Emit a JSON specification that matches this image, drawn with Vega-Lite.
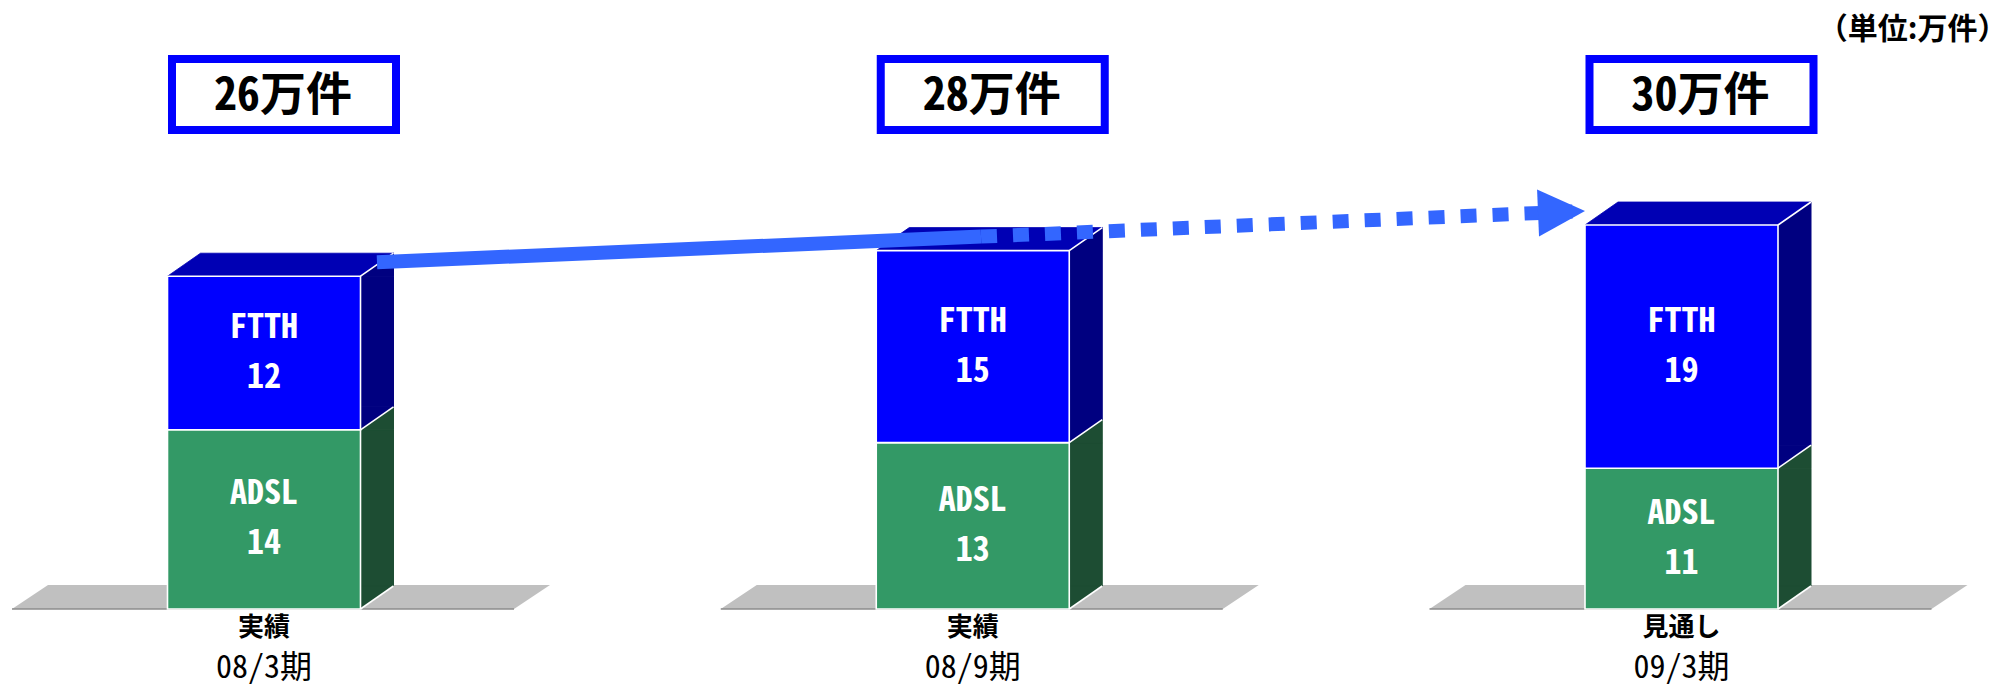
{
  "$schema": "https://vega.github.io/schema/vega-lite/v6.json",
  "width": 2010,
  "height": 690,
  "autosize": "none",
  "padding": 0,
  "background": "white",
  "config": {"view": {"stroke": null}},
  "datasets": {
    "bars": [
      {"period": "08/3期", "series": "ADSL", "value": 14},
      {"period": "08/3期", "series": "FTTH", "value": 12},
      {"period": "08/9期", "series": "ADSL", "value": 13},
      {"period": "08/9期", "series": "FTTH", "value": 15},
      {"period": "09/3期", "series": "ADSL", "value": 11},
      {"period": "09/3期", "series": "FTTH", "value": 19}
    ],
    "totals": [
      {"period": "08/3期", "status": "実績", "total": 26, "label": "26万件"},
      {"period": "08/9期", "status": "実績", "total": 28, "label": "28万件"},
      {"period": "09/3期", "status": "見通し", "total": 30, "label": "30万件"}
    ],
    "unit": [{"unit": "（単位:万件）"}]
  },
  "resolve": {"scale": {"x": "independent"}},
  "layer": [
    {
      "layer": [
        {
          "data": {"name": "totals"},
          "mark": {"type": "point", "shape": "M -252,0 L 250,0 L 286,-24 L -216,-24 Z", "size": 4, "filled": true, "fill": "#C0C0C0", "opacity": 1, "strokeWidth": 0},
          "encoding": {
            "x": {"field": "period", "type": "nominal", "axis": null, "scale": {"type": "band", "range": [-90.375, 2035.875], "paddingInner": 0, "paddingOuter": 0}},
            "y": {"datum": 0, "type": "quantitative", "axis": null, "scale": {"domain": [0, 40], "range": [609, 97], "nice": false, "zero": true}}
          }
        },
        {
          "data": {"name": "totals"},
          "mark": {"type": "point", "shape": "M -252,0 L 250,0", "size": 4, "filled": false, "stroke": "#8C8C8C", "strokeWidth": 1.3, "opacity": 1},
          "encoding": {
            "x": {"field": "period", "type": "nominal", "axis": null},
            "y": {"datum": 0, "type": "quantitative", "axis": null}
          }
        },
        {
          "data": {"name": "bars"},
          "transform": [{"stack": "value", "groupby": ["period"], "sort": [{"field": "series", "order": "ascending"}], "as": ["v0", "v1"]}],
          "mark": {"type": "bar", "width": 33, "xOffset": 113, "y2Offset": -23, "strokeWidth": 1},
          "encoding": {
            "x": {"field": "period", "type": "nominal", "axis": null},
            "y": {"field": "v1", "type": "quantitative", "axis": null},
            "y2": {"field": "v0"},
            "fill": {"field": "series", "type": "nominal", "legend": null, "scale": {"domain": ["ADSL", "FTTH"], "range": ["#1D4D33", "#000080"]}},
            "stroke": {"field": "series", "type": "nominal", "legend": null, "scale": {"domain": ["ADSL", "FTTH"], "range": ["#1D4D33", "#000080"]}}
          }
        },
        {
          "data": {"name": "bars"},
          "transform": [{"stack": "value", "groupby": ["period"], "sort": [{"field": "series", "order": "ascending"}], "as": ["v0", "v1"]}],
          "mark": {"type": "point", "shape": "M 96.5,0 L 129.5,-23 L 129.5,0 Z", "size": 4, "filled": true, "opacity": 1, "strokeWidth": 1},
          "encoding": {
            "x": {"field": "period", "type": "nominal", "axis": null},
            "y": {"field": "v1", "type": "quantitative", "axis": null},
            "fill": {"field": "series", "type": "nominal", "legend": null},
            "stroke": {"field": "series", "type": "nominal", "legend": null}
          }
        },
        {
          "data": {"name": "bars"},
          "transform": [{"stack": "value", "groupby": ["period"], "sort": [{"field": "series", "order": "ascending"}], "as": ["v0", "v1"]}],
          "mark": {"type": "point", "shape": "M 96.5,-23 L 129.5,-23 L 96.5,0 Z", "size": 4, "filled": true, "opacity": 1, "strokeWidth": 1},
          "encoding": {
            "x": {"field": "period", "type": "nominal", "axis": null},
            "y": {"field": "v0", "type": "quantitative", "axis": null},
            "fill": {"field": "series", "type": "nominal", "legend": null},
            "stroke": {"field": "series", "type": "nominal", "legend": null}
          }
        },
        {
          "data": {"name": "totals"},
          "mark": {"type": "point", "shape": "M -96.5,0 L 96.5,0 L 129.5,-23 L -63.5,-23 Z", "size": 4, "filled": true, "fill": "#0000B4", "opacity": 1, "stroke": "#0000B4", "strokeWidth": 0.8},
          "encoding": {
            "x": {"field": "period", "type": "nominal", "axis": null},
            "y": {"field": "total", "type": "quantitative", "axis": null}
          }
        },
        {
          "data": {"name": "bars"},
          "transform": [{"stack": "value", "groupby": ["period"], "sort": [{"field": "series", "order": "ascending"}], "as": ["v0", "v1"]}],
          "mark": {"type": "bar", "width": 193, "stroke": "white", "strokeWidth": 1.6},
          "encoding": {
            "x": {"field": "period", "type": "nominal", "axis": null},
            "y": {"field": "v1", "type": "quantitative", "axis": null},
            "y2": {"field": "v0"},
            "color": {"field": "series", "type": "nominal", "legend": null, "scale": {"domain": ["ADSL", "FTTH"], "range": ["#339966", "#0000FF"]}}
          }
        },
        {
          "data": {"name": "bars"},
          "transform": [{"stack": "value", "groupby": ["period"], "sort": [{"field": "series", "order": "ascending"}], "as": ["v0", "v1"]}],
          "mark": {"type": "point", "shape": "M 96.5,0 L 129.5,-23", "size": 4, "filled": false, "stroke": "white", "strokeWidth": 1.6, "opacity": 1},
          "encoding": {
            "x": {"field": "period", "type": "nominal", "axis": null},
            "y": {"field": "v1", "type": "quantitative", "axis": null}
          }
        },
        {
          "data": {"name": "totals"},
          "mark": {"type": "point", "shape": "M 96.5,0 L 129.5,-23", "size": 4, "filled": false, "stroke": "white", "strokeWidth": 1.6, "opacity": 1},
          "encoding": {
            "x": {"field": "period", "type": "nominal", "axis": null},
            "y": {"datum": 0, "type": "quantitative", "axis": null}
          }
        },
        {
          "data": {"name": "bars"},
          "transform": [
            {"stack": "value", "groupby": ["period"], "sort": [{"field": "series", "order": "ascending"}], "as": ["v0", "v1"]},
            {"fold": ["v0", "v1"], "as": ["edge", "pos"]}
          ],
          "mark": {"type": "text", "color": "white", "font": "Noto Sans Mono CJK JP, Noto Sans CJK JP, sans-serif", "fontSize": 34, "fontWeight": "bold", "baseline": "middle", "dy": -25},
          "encoding": {
            "x": {"field": "period", "type": "nominal", "axis": null},
            "y": {"aggregate": "mean", "field": "pos", "type": "quantitative", "axis": null},
            "text": {"field": "series", "type": "nominal"}
          }
        },
        {
          "data": {"name": "bars"},
          "transform": [
            {"stack": "value", "groupby": ["period"], "sort": [{"field": "series", "order": "ascending"}], "as": ["v0", "v1"]},
            {"fold": ["v0", "v1"], "as": ["edge", "pos"]}
          ],
          "mark": {"type": "text", "color": "white", "font": "Noto Sans Mono CJK JP, Noto Sans CJK JP, sans-serif", "fontSize": 34, "fontWeight": "bold", "baseline": "middle", "dy": 25},
          "encoding": {
            "x": {"field": "period", "type": "nominal", "axis": null},
            "y": {"aggregate": "mean", "field": "pos", "type": "quantitative", "axis": null},
            "text": {"field": "value", "type": "quantitative"}
          }
        },
        {
          "data": {"name": "totals"},
          "mark": {"type": "text", "color": "black", "font": "Noto Sans CJK JP, sans-serif", "fontSize": 26, "fontWeight": "bold", "baseline": "middle", "dy": 19},
          "encoding": {
            "x": {"field": "period", "type": "nominal", "axis": null},
            "y": {"datum": 0, "type": "quantitative", "axis": null},
            "text": {"field": "status", "type": "nominal"}
          }
        },
        {
          "data": {"name": "totals"},
          "mark": {"type": "text", "color": "black", "font": "Noto Sans Mono CJK JP, Noto Sans CJK JP, sans-serif", "fontSize": 32, "baseline": "middle", "dy": 59},
          "encoding": {
            "x": {"field": "period", "type": "nominal", "axis": null},
            "y": {"datum": 0, "type": "quantitative", "axis": null},
            "text": {"field": "period", "type": "nominal"}
          }
        },
        {
          "data": {"name": "totals"},
          "mark": {"type": "point", "shape": "M -112,-35.5 L 112,-35.5 L 112,35.5 L -112,35.5 Z", "size": 4, "filled": true, "fill": "white", "stroke": "#0000FF", "strokeWidth": 8, "opacity": 1, "xOffset": 20, "yOffset": -2.5},
          "encoding": {
            "x": {"field": "period", "type": "nominal", "axis": null},
            "y": {"datum": 40, "type": "quantitative", "axis": null}
          }
        },
        {
          "data": {"name": "totals"},
          "mark": {"type": "text", "color": "black", "font": "Noto Sans Mono CJK JP, Noto Sans CJK JP, sans-serif", "fontSize": 46, "fontWeight": "bold", "baseline": "middle", "xOffset": 19, "dy": -1},
          "encoding": {
            "x": {"field": "period", "type": "nominal", "axis": null},
            "y": {"datum": 40, "type": "quantitative", "axis": null},
            "text": {"field": "label", "type": "nominal"}
          }
        },
        {
          "data": {"name": "unit"},
          "mark": {"type": "text", "color": "black", "font": "Noto Sans CJK JP, sans-serif", "fontSize": 30, "fontWeight": "bold", "baseline": "middle", "align": "right", "xOffset": 326, "dy": -3},
          "encoding": {
            "x": {"datum": "09/3期", "type": "nominal", "axis": null},
            "y": {"datum": 45, "type": "quantitative", "axis": null},
            "text": {"field": "unit", "type": "nominal"}
          }
        }
      ]
    },
    {
      "data": {"name": "totals"},
      "layer": [
        {
          "transform": [{"filter": "datum.status == '実績'"}],
          "mark": {"type": "line", "color": "#3366FF", "strokeWidth": 14, "strokeCap": "butt", "yOffset": -14},
          "encoding": {
            "x": {"field": "period", "type": "nominal", "axis": null, "scale": {"type": "point", "range": [377, 1585], "padding": 0}},
            "y": {"field": "total", "type": "quantitative", "axis": null}
          }
        },
        {
          "transform": [{"filter": "datum.period != '08/3期'"}],
          "mark": {"type": "line", "color": "#3366FF", "strokeWidth": 14, "strokeCap": "butt", "strokeDash": [16, 16], "yOffset": -14},
          "encoding": {
            "x": {"field": "period", "type": "nominal", "axis": null},
            "y": {"field": "total", "type": "quantitative", "axis": null}
          }
        },
        {
          "transform": [{"filter": "datum.period == '09/3期'"}],
          "mark": {"type": "point", "shape": "M 0,0 L -47,-23.5 L -47,23.5 Z", "size": 4, "angle": -2.4, "filled": true, "fill": "#3366FF", "opacity": 1, "strokeWidth": 0, "yOffset": -14},
          "encoding": {
            "x": {"field": "period", "type": "nominal", "axis": null},
            "y": {"field": "total", "type": "quantitative", "axis": null}
          }
        }
      ]
    }
  ]
}
